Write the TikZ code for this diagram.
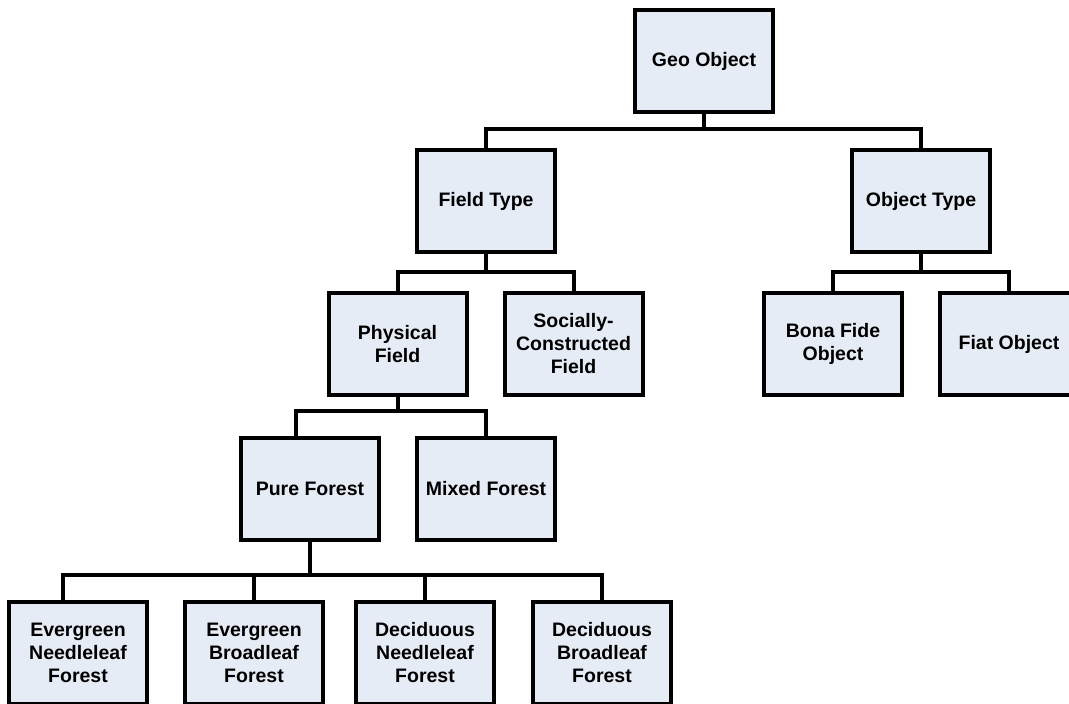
\documentclass[tikz,border=0pt]{standalone}
\usepackage{fontspec}
\setmainfont{Liberation Sans}
\usetikzlibrary{positioning}
\definecolor{boxfill}{RGB}{230,236,246}

\begin{document}
\begin{tikzpicture}[x=1pt,y=1pt,on grid,
    box/.style={rectangle, draw, line width=4pt, fill=boxfill,
      minimum width=138pt, minimum height=102pt, align=center,
      font=\fontsize{19.5}{23}\selectfont\bfseries},
    link/.style={to path={-- ++(0,-#1) -| (\tikztotarget)}},
    link/.default=16pt]
   \useasboundingbox (0,0) rectangle (1069,-704);
   \clip (0,0) rectangle (1069,-704);

   \node[box] (geo) at (704,-61) {Geo Object};

   \node[box] (field)  [below left=140pt and 218pt of geo]  {Field Type};
   \node[box] (object) [below right=140pt and 217pt of geo] {Object Type};

   \node[box] (physical) [below left=143pt and 88.5pt of field]  {Physical\\Field};
   \node[box] (social)   [below right=143pt and 87.5pt of field] {Socially-\\Constructed\\Field};
   \node[box] (bonafide) [below left=143pt and 88pt of object]   {Bona Fide\\Object};
   \node[box] (fiat)     [below right=143pt and 88pt of object]  {Fiat Object};

   \node[box] (pure)  [below left=145pt and 87.5pt of physical]  {Pure Forest};
   \node[box] (mixed) [below right=145pt and 88.5pt of physical] {Mixed Forest};

   \node[box] (egneedle) [below left=164pt and 232pt of pure]  {Evergreen\\Needleleaf\\Forest};
   \node[box] (egbroad)  [below left=164pt and 56pt of pure]   {Evergreen\\Broadleaf\\Forest};
   \node[box] (dcneedle) [below right=164pt and 115pt of pure] {Deciduous\\Needleleaf\\Forest};
   \node[box] (dcbroad)  [below right=164pt and 292pt of pure] {Deciduous\\Broadleaf\\Forest};

    \path[line width=4pt]
    (geo.south) edge[link=15pt] (field.north)
    (geo.south) edge[link=15pt] (object.north)

    (field.south) edge[link=18pt] (physical.north)
    (field.south) edge[link=18pt] (social.north)

    (object.south) edge[link=18pt] (bonafide.north)
    (object.south) edge[link=18pt] (fiat.north)

    (physical.south) edge[link=14pt] ([xshift=-14pt]pure.north)
    (physical.south) edge[link=14pt] (mixed.north)

    (pure.south) edge[link=33pt] ([xshift=-15pt]egneedle.north)
    (pure.south) edge[link=33pt] (egbroad.north)
    (pure.south) edge[link=33pt] (dcneedle.north)
    (pure.south) edge[link=33pt] (dcbroad.north);
\end{tikzpicture}
\end{document}
